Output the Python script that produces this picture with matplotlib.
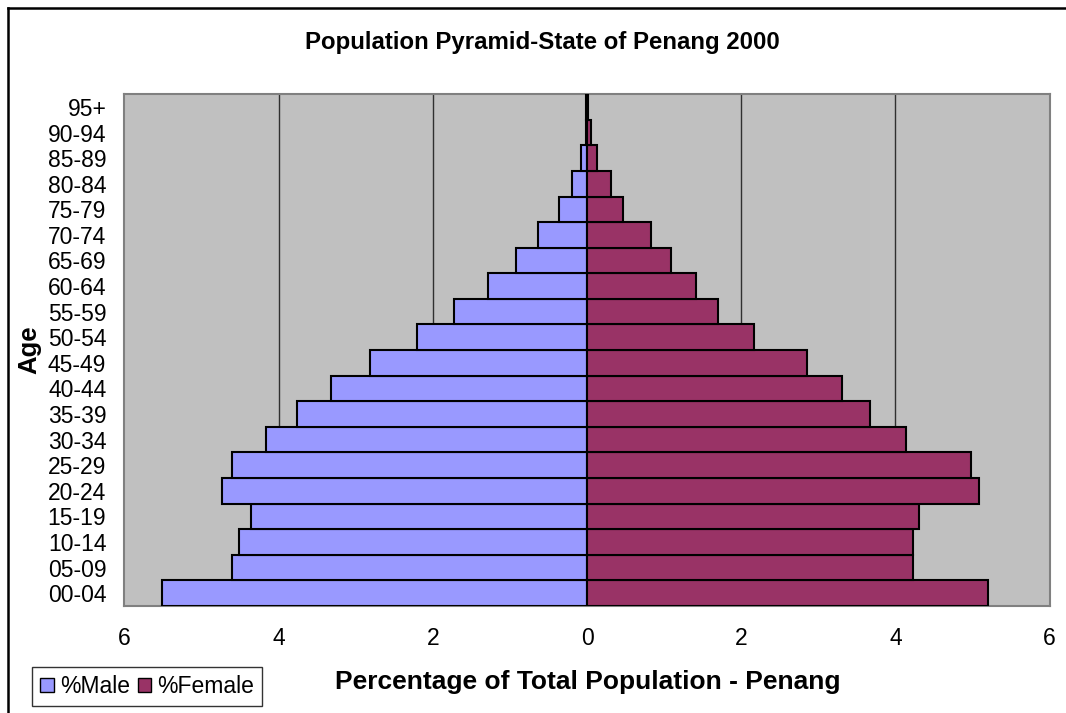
import matplotlib
matplotlib.use("Agg")
import matplotlib.pyplot as plt
from matplotlib.lines import Line2D
from matplotlib.patches import Patch
import numpy as np

plt.rcParams['font.family'] = ['Liberation Sans', 'DejaVu Sans']

age_groups = ["00-04", "05-09", "10-14", "15-19", "20-24", "25-29", "30-34",
              "35-39", "40-44", "45-49", "50-54", "55-59", "60-64", "65-69",
              "70-74", "75-79", "80-84", "85-89", "90-94", "95+"]
male_pct = [5.51, 4.61, 4.52, 4.36, 4.73, 4.61, 4.16, 3.76, 3.32, 2.82,
            2.21, 1.72, 1.29, 0.92, 0.63, 0.36, 0.19, 0.08, 0.02, 0.01]
female_pct = [5.20, 4.23, 4.23, 4.30, 5.08, 4.98, 4.14, 3.67, 3.31, 2.85,
              2.17, 1.70, 1.41, 1.09, 0.83, 0.47, 0.31, 0.13, 0.05, 0.01]
x_ticks = [-6, -4, -2, 0, 2, 4, 6]

male_color = "#9999FF"
female_color = "#993366"

fig = plt.figure(figsize=(10.66, 7.13), dpi=100)
ax = fig.add_axes([0.1167, 0.150, 0.868, 0.718])
ax.set_facecolor("#C0C0C0")

y = np.arange(len(age_groups))
ax.barh(y, -np.array(male_pct), height=1.0, color=male_color,
        edgecolor="black", linewidth=1.5, zorder=3)
ax.barh(y, female_pct, height=1.0, color=female_color,
        edgecolor="black", linewidth=1.5, zorder=3)

ax.set_xlim(-6, 6)
ax.set_ylim(-0.5, len(age_groups) - 0.5)
ax.set_xticks(x_ticks)
ax.set_xticklabels([str(abs(t)) for t in x_ticks], fontsize=16.5)
ax.set_yticks(y)
ax.set_yticklabels(age_groups, fontsize=16.5)
ax.tick_params(axis="both", length=0)
ax.tick_params(axis="y", pad=13)
ax.tick_params(axis="x", pad=15)

for gx in [-4, -2, 2, 4]:
    ax.axvline(gx, color="#303030", linewidth=1.0, zorder=1)

for side in ax.spines.values():
    side.set_color("#808080")
    side.set_linewidth(1.5)

fig.text(0.509, 0.941, "Population Pyramid-State of Penang 2000",
         ha="center", va="center", fontsize=17.3, fontweight="bold")
fig.text(0.551, 0.0435, "Percentage of Total Population - Penang",
         ha="center", va="center", fontsize=19, fontweight="bold")
fig.text(0.028, 0.509, "Age", ha="center", va="center", rotation=90,
         fontsize=18.5, fontweight="bold")

handles = [Patch(facecolor=male_color, edgecolor="black", linewidth=1.0),
           Patch(facecolor=female_color, edgecolor="black", linewidth=1.0)]
leg = fig.legend(handles, ["%Male", "%Female"], loc="center",
                 bbox_to_anchor=(0.138, 0.0372), ncol=2, fontsize=16.5,
                 handlelength=0.6, handleheight=0.6, handletextpad=0.25,
                 columnspacing=0.35, borderpad=0.35, frameon=True,
                 fancybox=False, borderaxespad=0)
leg.get_frame().set_edgecolor("black")
leg.get_frame().set_linewidth(1.0)

# outer chart border (top and left edges)
fig.add_artist(Line2D([0.0075, 1.0], [0.9888, 0.9888], color="black",
                      linewidth=1.8, transform=fig.transFigure))
fig.add_artist(Line2D([0.0075, 0.0075], [0.0, 0.9888], color="black",
                      linewidth=1.8, transform=fig.transFigure))

fig.savefig("out.png", dpi=100)
